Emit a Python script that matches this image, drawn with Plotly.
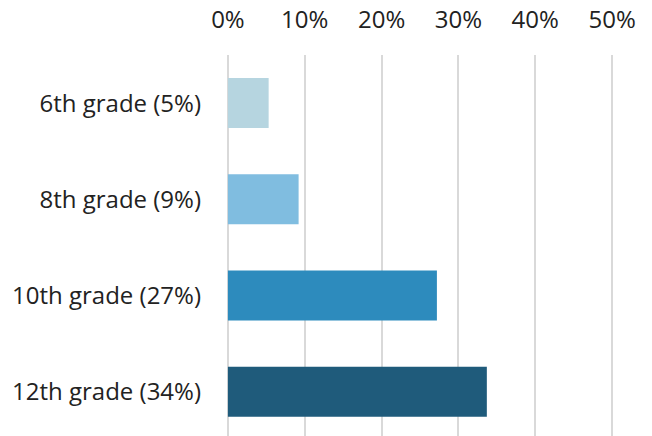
import plotly.graph_objects as go

categories = ["6th grade (5%)", "8th grade (9%)", "10th grade (27%)", "12th grade (34%)"]
values = [5.3, 9.2, 27.2, 33.7]
colors = ["#b6d5e0", "#80bde0", "#2d8bbd", "#1f5b7b"]
tick_vals = [0, 10, 20, 30, 40, 50]
tick_text = ["0%", "10%", "20%", "30%", "40%", "50%"]

fig = go.Figure(go.Bar(
    x=values, y=categories, orientation="h",
    marker=dict(color=colors, line=dict(width=0)),
    width=0.52,
))

fig.update_layout(
    width=652, height=436,
    margin=dict(l=226, r=38, t=55, b=0),
    paper_bgcolor="white", plot_bgcolor="white",
    font=dict(family="Open Sans", size=24, color="#222222"),
    showlegend=False,
)
fig.update_xaxes(
    side="top", range=[-0.25, 50.25], tickvals=tick_vals, ticktext=tick_text,
    showgrid=True, gridcolor="#d9d9d9", gridwidth=2,
    zeroline=False, showline=False, ticks="", ticklabelstandoff=21,
    automargin=False,
)
fig.update_yaxes(
    type="category", range=[3.46, -0.5], showgrid=False, zeroline=False,
    showline=False, ticks="", ticklabelstandoff=24, automargin=False,
)

fig.write_html(
    "out.html",
    config={"displayModeBar": False},
    post_script="document.body.style.margin='0';document.body.style.overflow='hidden';",
)
